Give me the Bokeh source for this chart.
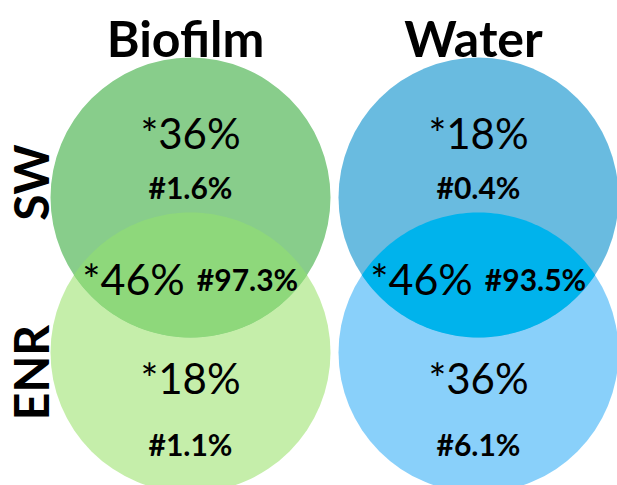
import numpy as np
from bokeh.plotting import figure
from bokeh.models import Range1d
from bokeh.core.properties import value
from bokeh.embed import file_html
from bokeh.resources import INLINE

# ---- data ----
columns = ["Biofilm", "Water"]
rows = ["SW", "ENR"]
# percentage labels: (top-only, overlap, bottom-only)
star_vals = {"Biofilm": ["*36%", "*46%", "*18%"], "Water": ["*18%", "*46%", "*36%"]}
hash_vals = {"Biofilm": ["#1.6%", "#97.3%", "#1.1%"], "Water": ["#0.4%", "#93.5%", "#6.1%"]}
top_colors = {"Biofilm": "#88cd8b", "Water": "#69bbe0"}
overlap_colors = {"Biofilm": "#8ed87b", "Water": "#00b3ec"}
bottom_colors = {"Biofilm": "#c5eeaa", "Water": "#89d0fa"}

# ---- layout (page pixel coordinates) ----
W, H = 617, 485
col_x = {"Biofilm": 190, "Water": 478}
row_y = {"SW": 197, "ENR": 352}
R = 140

p = figure(width=W, height=H, output_backend="svg", toolbar_location=None,
           x_range=Range1d(0, W), y_range=Range1d(H, 0),
           min_border=0)
p.axis.visible = False
p.grid.visible = False
p.outline_line_color = None
p.background_fill_color = "white"
p.border_fill_color = "white"

FONT = value("Lato")

for c in columns:
    cx = col_x[c]
    c1, c2 = row_y["SW"], row_y["ENR"]
    p.circle(x=[cx], y=[c2], radius=R, fill_color=bottom_colors[c], line_color=None)
    p.circle(x=[cx], y=[c1], radius=R, fill_color=top_colors[c], line_color=None)
    d = c2 - c1
    a = np.arcsin(d / (2 * R))
    t1 = np.linspace(a, np.pi - a, 80)
    t2 = np.linspace(np.pi + a, 2 * np.pi - a, 80)
    xs = np.concatenate([cx + R * np.cos(t1), cx + R * np.cos(t2)])
    ys = np.concatenate([c1 + R * np.sin(t1), c2 + R * np.sin(t2)])
    p.patch(xs, ys, fill_color=overlap_colors[c], line_color=None)

    # column title
    p.text(x=[cx - 5], y=[37], text=[c], text_font=FONT,
           text_font_style="bold", text_font_size="50px", text_align="center",
           text_baseline="middle", text_color="black")

    s = star_vals[c]
    h = hash_vals[c]
    # top only
    p.text(x=[cx], y=[132], text=[s[0]], text_font=FONT, text_font_size="42px",
           text_align="center", text_baseline="middle", text_color="black")
    p.text(x=[cx], y=[186], text=[h[0]], text_font=FONT, text_font_style="bold",
           text_font_size="30px", text_align="center", text_baseline="middle", text_color="black")
    # overlap
    p.text(x=[cx - 57], y=[278], text=[s[1]], text_font=FONT, text_font_size="43px",
           text_align="center", text_baseline="middle", text_color="black")
    p.text(x=[cx + 57], y=[278], text=[h[1]], text_font=FONT, text_font_style="bold",
           text_font_size="30px", text_align="center", text_baseline="middle", text_color="black")
    # bottom only
    p.text(x=[cx], y=[377], text=[s[2]], text_font=FONT, text_font_size="42px",
           text_align="center", text_baseline="middle", text_color="black")
    p.text(x=[cx], y=[443], text=[h[2]], text_font=FONT, text_font_style="bold",
           text_font_size="30px", text_align="center", text_baseline="middle", text_color="black")

# row labels
for r, ycen in zip(rows, [182, 372]):
    p.text(x=[30], y=[ycen], text=[r], text_font=FONT, text_font_style="bold",
           text_font_size="48px", text_align="center", text_baseline="middle",
           angle=np.pi / 2, text_color="black")

open("out.html", "w").write(file_html(p, INLINE))
